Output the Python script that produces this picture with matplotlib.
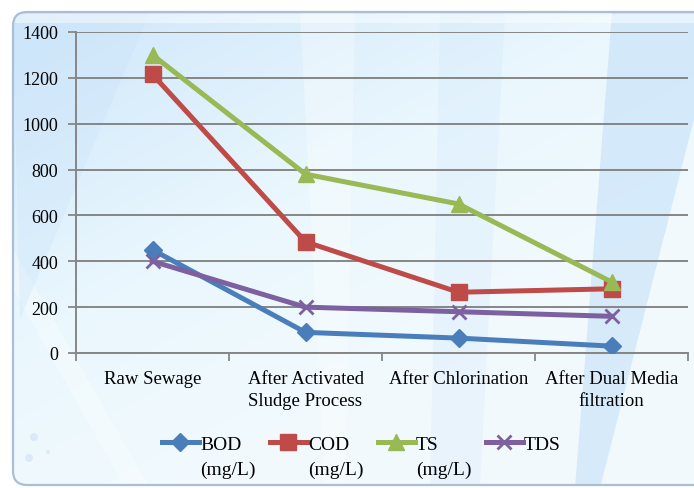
import numpy as np
import matplotlib
matplotlib.use("Agg")
import matplotlib.pyplot as plt
from matplotlib.patches import FancyBboxPatch, Polygon, Circle
from matplotlib.legend_handler import HandlerLine2D
from matplotlib.transforms import Affine2D

plt.rcParams['font.family'] = ['Liberation Serif', 'DejaVu Serif']

stages = ["Raw Sewage", "After Activated\nSludge Process", "After Chlorination",
          "After Dual Media\nfiltration"]
bod = [450, 90, 65, 30]
cod = [1215, 485, 265, 280]
ts = [1300, 780, 650, 310]
tds = [400, 200, 180, 160]

series = [
    ("BOD\n(mg/L)", bod, "#4A7EBB", "D", 9, True),
    ("COD\n(mg/L)", cod, "#BE4B48", "s", 11, True),
    ("TS\n(mg/L)", ts, "#98B954", "^", 11, True),
    ("TDS\n ", tds, "#7D60A0", "x", 10, False),
]


class FirstLineHandler(HandlerLine2D):
    # put the legend line next to the first row of a two-line label
    def create_artists(self, legend, orig_handle, xdescent, ydescent,
                       width, height, fontsize, trans):
        trans = Affine2D().translate(0, 0.72 * fontsize) + trans
        return super().create_artists(legend, orig_handle, xdescent, ydescent,
                                      width, height, fontsize, trans)


fig = plt.figure(figsize=(6.94, 4.89), dpi=100)
fig.patch.set_facecolor("white")

# background panel with soft blue gradient
bg = fig.add_axes([0, 0, 1, 1], zorder=-10)
bg.set_xlim(0, 694)
bg.set_ylim(489, 0)
bg.axis("off")
yy, xx = np.mgrid[0:489, 0:694]
t = np.clip(0.6 * (xx / 694) + 0.8 * (yy / 489), 0, 1)
top = np.array([0.80, 0.90, 0.98])
mid = np.array([0.92, 0.97, 0.995])
low = np.array([0.95, 0.98, 0.995])
w = np.clip(t * 1.7, 0, 1)[..., None]
img = top * (1 - w) + mid * w
w2 = np.clip((t - 0.6) * 2.5, 0, 1)[..., None]
img = img * (1 - w2) + low * w2
panel = FancyBboxPatch((13, 13), 700, 473, boxstyle="round,pad=0,rounding_size=14",
                       facecolor="none", edgecolor="#a9bfd8", linewidth=1.6, zorder=5)
bg.add_patch(panel)
im = bg.imshow(img, extent=(0, 694, 489, 0), aspect="auto", zorder=0)
im.set_clip_path(panel)

# light rays across the panel
rays = [
    ([(612, 13), (694, 13), (694, 120), (600, 489), (575, 489)], "#b6d8f7", 0.45),
    ([(440, 13), (505, 13), (480, 489), (430, 489)], "#d2e8fb", 0.3),
    ([(300, 13), (355, 13), (345, 489), (325, 489)], "#ffffff", 0.3),
    ([(13, 290), (13, 250), (150, 489), (125, 489)], "#ffffff", 0.3),
    ([(13, 20), (150, 13), (20, 320)], "#c8e2f9", 0.3),
]
for pts, col, a in rays:
    p = Polygon(pts, closed=True, facecolor=col, edgecolor="none", alpha=a, zorder=1)
    bg.add_patch(p)
    p.set_clip_path(panel)
# glossy band at the top edge
band = Polygon([(13, 15), (694, 15), (694, 24), (13, 24)], facecolor="white",
               edgecolor="none", alpha=0.45, zorder=2)
bg.add_patch(band)
band.set_clip_path(panel)
for cx, cy, r in [(34, 438, 4), (29, 459, 4), (48, 453, 2)]:
    c = Circle((cx, cy), r, facecolor="#d6e8f6", edgecolor="none", alpha=0.8, zorder=2)
    bg.add_patch(c)

ax = fig.add_axes([76 / 694, 1 - 354 / 489, (688 - 76) / 694, (354 - 33) / 489])
ax.set_facecolor("none")

x = np.arange(len(stages)) + 0.5
handles = []
for name, vals, col, mk, ms, filled in series:
    if filled:
        line, = ax.plot(x, vals, color=col, lw=3.6, marker=mk, ms=ms,
                        markerfacecolor=col, markeredgecolor=col, zorder=3)
    else:
        line, = ax.plot(x, vals, color=col, lw=3.6, marker=mk, ms=ms,
                        markeredgewidth=2, markeredgecolor=col, zorder=3)
    handles.append(line)

ax.set_xlim(0, len(stages))
ax.set_ylim(0, 1400)
ax.set_yticks(np.arange(0, 1401, 200))
ax.set_xticks(np.arange(0, len(stages) + 1))
ax.set_xticklabels([])
ax.set_xticks(x, minor=True)
ax.set_xticklabels(stages, minor=True, linespacing=1.4)
ax.tick_params(axis="x", which="minor", length=0, pad=12, labelsize=13.5)
ax.tick_params(axis="x", which="major", length=6, width=1.3, color="#868686", direction="out")
ax.tick_params(axis="y", length=6, width=1.3, color="#868686", labelsize=13, pad=7)
ax.grid(axis="y", color="#868686", lw=1.4)
ax.set_axisbelow(True)
for s in ["top", "right"]:
    ax.spines[s].set_visible(False)
for s in ["left", "bottom"]:
    ax.spines[s].set_color("#868686")
    ax.spines[s].set_linewidth(1.4)

leg = fig.legend(handles, [s[0] for s in series], loc="upper left",
                 bbox_to_anchor=(162 / 694, 1 - 437 / 489), ncol=4, frameon=False,
                 fontsize=14, handlelength=1.9, handletextpad=0.05,
                 columnspacing=0.75, borderaxespad=0, borderpad=0,
                 handler_map={type(handles[0]): FirstLineHandler()})
for txt in leg.get_texts():
    txt.set_linespacing(1.55)

fig.savefig("out.png", dpi=100)
